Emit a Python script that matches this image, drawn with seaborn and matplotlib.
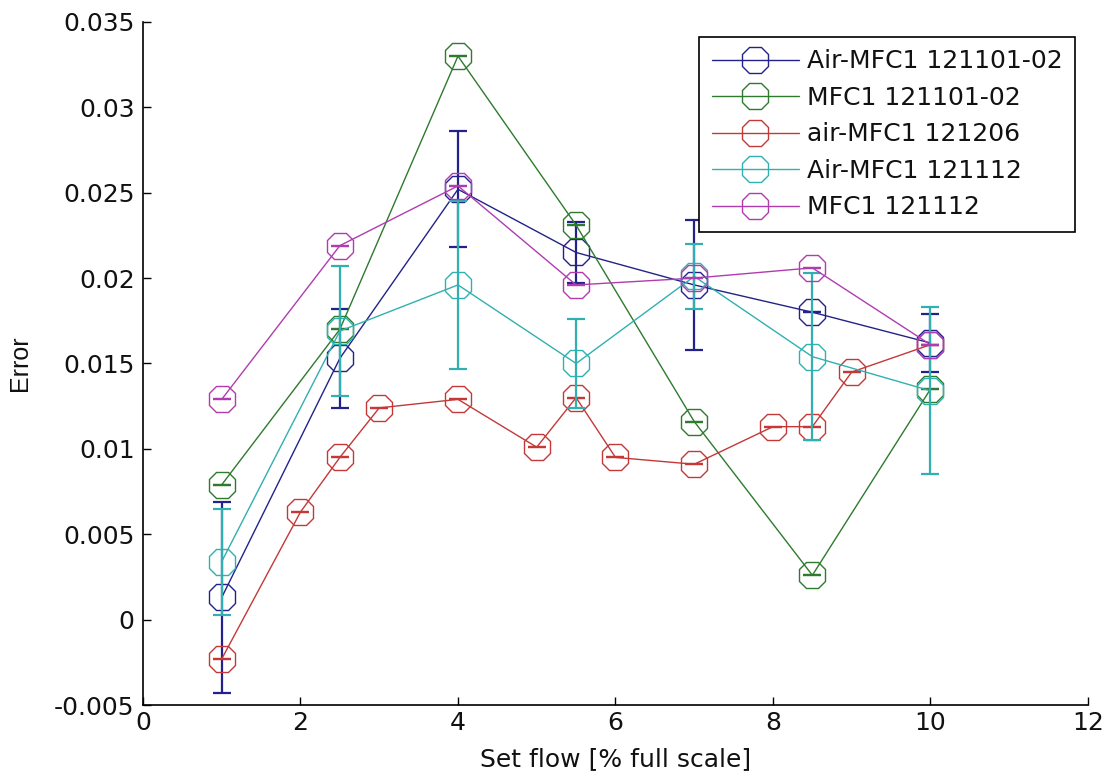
import numpy as np
import pandas as pd
import matplotlib
matplotlib.use("Agg")
import matplotlib.pyplot as plt
import seaborn as sns
from matplotlib.ticker import FuncFormatter

# ---- data ----
labels = ["Air-MFC1 121101-02", "MFC1 121101-02", "air-MFC1 121206",
          "Air-MFC1 121112", "MFC1 121112"]
colors = ["#22228a", "#2e7a2e", "#c43838", "#30b0b0", "#b03cb0"]

x_std = [1, 2.5, 4, 5.5, 7, 8.5, 10]
x_red = [1, 2, 2.5, 3, 4, 5, 5.5, 6, 7, 8, 8.5, 9, 10]

blue_y = [0.0013, 0.0153, 0.0252, 0.0215, 0.0196, 0.0180, 0.0162]
blue_err = [0.0056, 0.0029, 0.0034, 0.0018, 0.0038, 0.0000, 0.0017]

green_y = [0.0079, 0.0170, 0.0330, 0.0231, 0.0116, 0.0026, 0.0135]
green_err = [0, 0, 0, 0, 0, 0, 0]

red_y = [-0.0023, 0.0063, 0.0095, 0.0124, 0.0129, 0.0101, 0.0130,
         0.0095, 0.0091, 0.0113, 0.0113, 0.0145, 0.0161]
red_err = [0] * 13

cyan_y = [0.0034, 0.0169, 0.0196, 0.0150, 0.0201, 0.0154, 0.0134]
cyan_err = [0.0031, 0.0038, 0.0049, 0.0026, 0.0019, 0.0049, 0.0049]

mag_y = [0.0129, 0.0219, 0.0254, 0.0196, 0.0200, 0.0206, 0.0161]
mag_err = [0, 0, 0, 0, 0, 0, 0]

series = [
    (x_std, blue_y, blue_err),
    (x_std, green_y, green_err),
    (x_red, red_y, red_err),
    (x_std, cyan_y, cyan_err),
    (x_std, mag_y, mag_err),
]

x_ticks = [0, 2, 4, 6, 8, 10, 12]
y_ticks = [-0.005, 0, 0.005, 0.01, 0.015, 0.02, 0.025, 0.03, 0.035]

# ---- plot ----
sns.set_style("white")
plt.rcParams["font.family"] = ["DejaVu Sans"]

fig = plt.figure(figsize=(11.04, 7.78), dpi=100)
ax = fig.add_axes([0.1295, 0.0938, 0.856, 0.878])

for (xs, ys, es), lab, c in zip(series, labels, colors):
    df = pd.DataFrame({"x": xs, "y": ys})
    sns.lineplot(data=df, x="x", y="y", ax=ax, color=c, linewidth=1.0,
                 marker="8", markersize=21, markerfacecolor="none",
                 markeredgecolor=c, markeredgewidth=1.0,
                 sort=False, estimator=None, label=lab)
    ax.errorbar(xs, ys, yerr=es, fmt="none", ecolor=c, elinewidth=1.6,
                capsize=6.5, capthick=1.6)

ax.set_xlim(0, 12)
ax.set_ylim(-0.005, 0.035)
ax.set_xticks(x_ticks)
ax.set_yticks(y_ticks)
ax.yaxis.set_major_formatter(FuncFormatter(lambda v, p: "%g" % round(v, 4)))
ax.tick_params(direction="in", length=6, width=1, labelsize=18, color="black",
               labelcolor="#111111", bottom=True, left=True)
ax.tick_params(axis="x", pad=4)
ax.tick_params(axis="y", pad=6)
for s in ["top", "right"]:
    ax.spines[s].set_visible(False)
for s in ["left", "bottom"]:
    ax.spines[s].set_color("black")
    ax.spines[s].set_linewidth(1.2)

ax.set_xlabel("Set flow [% full scale]", fontsize=18, labelpad=9, color="#111111")
ax.set_ylabel("Error", fontsize=18, labelpad=16, color="#111111",
              family=["Liberation Sans Narrow", "Liberation Sans"])

leg = ax.legend(loc="upper right", bbox_to_anchor=(0.986, 0.978),
                fontsize=18, frameon=True, fancybox=False, edgecolor="black",
                framealpha=1, borderpad=0.5, labelspacing=0.5,
                handlelength=3.5, handletextpad=0.3, borderaxespad=0)
leg.get_frame().set_linewidth(1.2)
for t in leg.get_texts():
    t.set_color("#111111")

fig.savefig("out.png", dpi=100)
